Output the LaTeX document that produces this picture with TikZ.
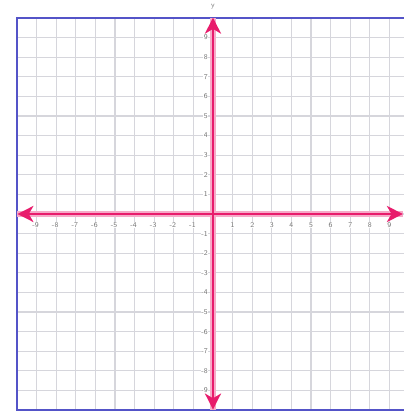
\documentclass[tikz,border=0pt]{standalone}
\usetikzlibrary{arrows.meta}
\definecolor{axispink}{RGB}{232,28,108}
\definecolor{halopink}{RGB}{246,170,200}
\definecolor{borderblue}{RGB}{84,84,200}
\definecolor{gridgray}{RGB}{214,214,220}
\definecolor{labelgray}{RGB}{115,115,115}
\tikzset{
  gridline/.style={draw=gridgray, line width=0.8pt},
  borderline/.style={draw=borderblue, line width=1.5pt},
  axishalo/.style={draw=halopink, line width=4pt},
  axisline/.style={draw=axispink, line width=2pt,
    {Stealth[length=12pt,width=12pt,inset=3.5pt]}-{Stealth[length=12pt,width=12pt,inset=3.5pt]}},
  ticklabel/.style={text=labelgray, font=\fontsize{5.5}{6}\sffamily, fill=white, inner sep=0.4pt},
}
\begin{document}
\begin{tikzpicture}[x=14.7pt,y=14.7pt]
\useasboundingbox (-10.867,-10.102) rectangle (9.694,10.918);
\fill[white] (-10.867,-10.102) rectangle (9.694,10.918);
% grid
\foreach \k in {-10,...,9} {
  \draw[gridline] (\k,-10) -- (\k,10);
}
\foreach \k in {-10,...,10} {
  \draw[gridline] (-10,\k) -- (9.9,\k);
}
% border (left, top, bottom; right side is cut off)
\coordinate (tr) at (9.9,10);
\coordinate (tl) at (-10,10);
\coordinate (bl) at (-10,-10);
\coordinate (br) at (9.9,-10);
\draw[borderline] (tr) -- (tl) -- (bl) -- (br);
% labels
\foreach \i in {1,...,9} {
  \node[ticklabel, anchor=north] (xp\i) at (\i,-0.38) {\i};
  \node[ticklabel, anchor=north] (xn\i) at (-\i-0.05,-0.38) {-\i};
  \node[ticklabel, anchor=east] (yp\i) at (-0.22,\i) {\i};
  \node[ticklabel, anchor=east] (yn\i) at (-0.22,-\i) {-\i};
}
\node[text=labelgray, font=\fontsize{5.5}{6}\sffamily, inner sep=0pt] (ylab) at (0,10.58) {y};
% axes
\coordinate (xl) at (-9.98,0);
\coordinate (xr) at (9.69,0);
\coordinate (yt) at (0,10.02);
\coordinate (yb) at (0,-9.98);
\draw[axishalo] (xl) -- (xr);
\draw[axishalo] (yb) -- (yt);
\draw[axisline] (xl) -- (xr);
\draw[axisline] (yb) -- (yt);
\end{tikzpicture}
\end{document}
